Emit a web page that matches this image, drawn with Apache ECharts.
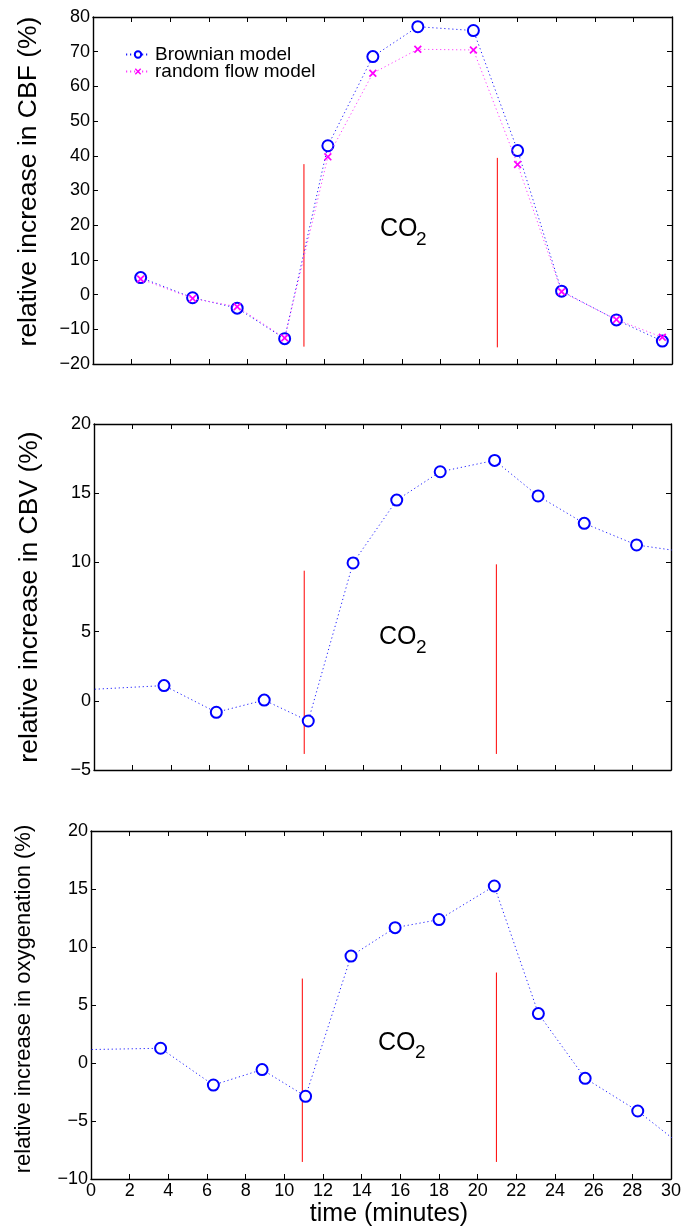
<!DOCTYPE html>
<html>
<head>
<meta charset="utf-8">
<script src="https://cdn.jsdelivr.net/npm/echarts@6/dist/echarts.min.js"></script>
<style>
  html, body { margin: 0; padding: 0; background: #fff; }
  #main { width: 681px; height: 1227px; }
</style>
</head>
<body>
<div id="main"></div>
<script>
// 数据
var cbfTime = [2.47, 5.16, 7.47, 9.93, 12.17, 14.5, 16.83, 19.71, 22.0, 24.28, 27.12, 29.5];
var cbfBrownian = [4.9, -0.9, -3.9, -12.7, 42.9, 68.6, 77.2, 76.1, 41.5, 1.0, -7.3, -13.4];
var cbfRandom = [4.5, -1.1, -3.5, -12.5, 39.7, 63.8, 70.7, 70.5, 37.5, 0.8, -7.2, -12.3];

var cbvTime = [-1.0, 3.64, 6.36, 8.85, 11.14, 13.47, 15.74, 18.0, 20.83, 23.09, 25.49, 28.21, 31.0];
var cbvValue = [0.76, 1.1, -0.83, 0.05, -1.46, 9.96, 14.5, 16.55, 17.37, 14.8, 12.82, 11.26, 10.7];

var oxyTime = [-1.0, 3.6, 6.33, 8.85, 11.1, 13.45, 15.73, 18.0, 20.86, 23.14, 25.56, 28.28, 31.0];
var oxyValue = [1.13, 1.27, -1.9, -0.57, -2.87, 9.22, 11.67, 12.36, 15.26, 4.26, -1.32, -4.14, -7.7];

// CO2 on / off markers: [time, bottom, top]
var cbfMarks = [[10.93, -15, 37.6], [20.95, -15.2, 39.4]];
var cbvMarks = [[10.93, -3.84, 9.4], [20.92, -3.84, 9.86]];
var oxyMarks = [[10.93, -8.53, 7.28], [20.97, -8.53, 7.8]];

var yNames = ['relative increase in CBF (%)', 'relative increase in CBV (%)', 'relative increase in oxygenation (%)'];
var yRanges = [[-20, 80, 10], [-5, 20, 5], [-10, 20, 5]];

var FONT = 'Liberation Sans, Arial, sans-serif';
var myChart = echarts.init(document.getElementById('main'));

function zip(xs, ys) {
    return xs.map(function (x, i) { return [x, ys[i]]; });
}
function minus(v) { return String(v).replace('-', '\u2212'); }

var grids = [
    { left: 93, top: 17, width: 579, height: 347 },
    { left: 94, top: 424, width: 577, height: 346 },
    { left: 91, top: 831, width: 580, height: 348 }
];
// 轴名称微调
var namePads = [[0, 0, 0, 18], [0, 0, 0, 0], [0, 0, 0, 12]];
var nameSizes = [26.5, 26.5, 22];
var nameGaps = [51, 51, 56];

var axisLine = { show: true, onZero: false, lineStyle: { color: '#000', width: 1.4 } };
var tick = { show: true, inside: true, length: 5, lineStyle: { color: '#000', width: 1 } };

var xAxes = [], yAxes = [];
grids.forEach(function (g, i) {
    var last = i === 2;
    xAxes.push({
        type: 'value', gridIndex: i, min: 0, max: 30, interval: 2, position: 'bottom',
        axisLine: axisLine, axisTick: tick, splitLine: { show: false },
        axisLabel: { show: last, color: '#000', fontSize: 18, fontFamily: FONT, margin: 3 },
        name: last ? 'time (minutes)' : '', nameLocation: 'middle', nameGap: 23,
        nameTextStyle: { color: '#000', fontSize: 25, fontFamily: FONT, padding: [0, 0, 0, 16] }
    });
});
grids.forEach(function (g, i) {
    xAxes.push({
        type: 'value', gridIndex: i, min: 0, max: 30, interval: 2, position: 'top',
        axisLine: axisLine, axisTick: tick, splitLine: { show: false }, axisLabel: { show: false }
    });
});
grids.forEach(function (g, i) {
    var r = yRanges[i];
    yAxes.push({
        type: 'value', gridIndex: i, min: r[0], max: r[1], interval: r[2], position: 'left',
        axisLine: axisLine, axisTick: tick, splitLine: { show: false },
        axisLabel: { color: '#000', fontSize: 18, fontFamily: FONT, margin: 3, formatter: minus },
        name: yNames[i], nameLocation: 'middle', nameGap: nameGaps[i],
        nameTextStyle: { color: '#000', fontSize: nameSizes[i], fontFamily: FONT, padding: namePads[i] }
    });
});
grids.forEach(function (g, i) {
    var r = yRanges[i];
    yAxes.push({
        type: 'value', gridIndex: i, min: r[0], max: r[1], interval: r[2], position: 'right',
        axisLine: axisLine, axisTick: tick, splitLine: { show: false }, axisLabel: { show: false }
    });
});

var dotted = [1.2, 2.8];
var xShape = 'path://M0,1.5L1.5,0L5,3.5L8.5,0L10,1.5L6.5,5L10,8.5L8.5,10L5,6.5L1.5,10L0,8.5L3.5,5Z';

function brownian(name, i, data) {
    return {
        name: name, type: 'line', xAxisIndex: i, yAxisIndex: i, data: data,
        symbol: 'emptyCircle', symbolSize: 11,
        lineStyle: { color: '#2020ff', width: 1, type: dotted },
        itemStyle: { color: '#0000ff', borderColor: '#0000ff', borderWidth: 2.5 },
        z: 3
    };
}
function redLines(i, marks) {
    return marks.map(function (m) {
        return {
            type: 'line', xAxisIndex: i, yAxisIndex: i, symbol: 'none',
            data: [[m[0], m[1]], [m[0], m[2]]],
            lineStyle: { color: '#ff0000', width: 1 }, z: 2
        };
    });
}

var series = [
    brownian('Brownian model', 0, zip(cbfTime, cbfBrownian)),
    {
        name: 'random flow model', type: 'line', xAxisIndex: 0, yAxisIndex: 0,
        data: zip(cbfTime, cbfRandom),
        symbol: xShape, symbolSize: 8,
        lineStyle: { color: '#ff40ff', width: 1, type: dotted },
        itemStyle: { color: '#ff00ff' }, z: 4
    },
    brownian('CBV', 1, zip(cbvTime, cbvValue)),
    brownian('oxygenation', 2, zip(oxyTime, oxyValue))
].concat(redLines(0, cbfMarks), redLines(1, cbvMarks), redLines(2, oxyMarks));

// CO2 labels
var co2 = [[380, 229, 416, 240], [379, 637, 416, 648], [378, 1043, 415, 1053]];
var graphics = [];
co2.forEach(function (c) {
    graphics.push({ type: 'text', x: c[0], y: c[1],
        style: { text: 'CO', fontSize: 25, fontFamily: FONT, fill: '#000', verticalAlign: 'middle' } });
    graphics.push({ type: 'text', x: c[2], y: c[3],
        style: { text: '2', fontSize: 19, fontFamily: FONT, fill: '#000', verticalAlign: 'middle' } });
});

var option = {
    animation: false,
    backgroundColor: '#fff',
    grid: grids.map(function (g) { return Object.assign({ outerBoundsMode: 'none' }, g); }),
    xAxis: xAxes,
    yAxis: yAxes,
    legend: {
        data: ['Brownian model', 'random flow model'],
        orient: 'vertical', left: 120, top: 40,
        itemWidth: 24, itemHeight: 8, itemGap: -2,
        textStyle: { color: '#000', fontSize: 19, lineHeight: 18, fontFamily: FONT }
    },
    graphic: graphics,
    series: series
};

myChart.setOption(option);
</script>
</body>
</html>
